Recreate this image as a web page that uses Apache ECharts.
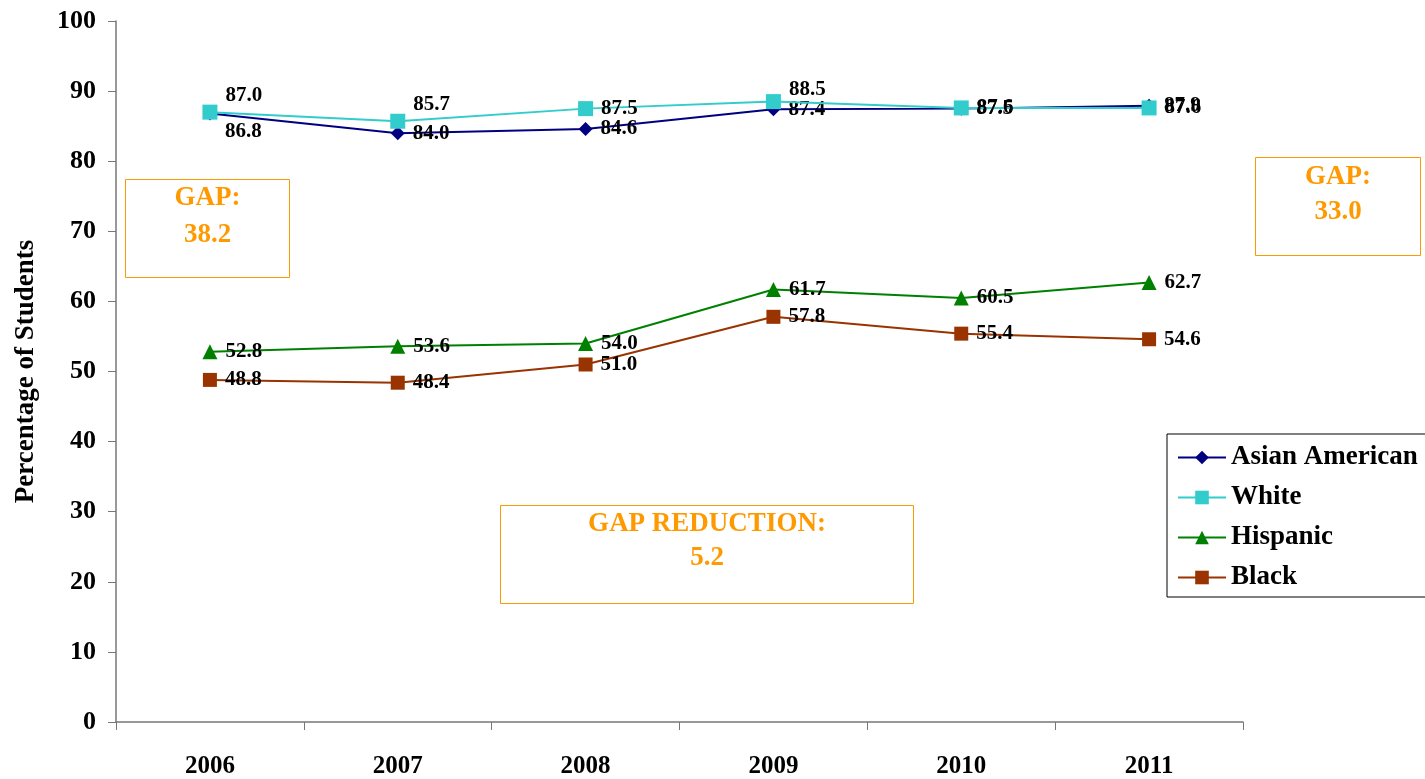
<!DOCTYPE html>
<html>
<head>
<meta charset="utf-8">
<script src="https://cdn.jsdelivr.net/npm/echarts@6/dist/echarts.min.js"></script>
<style>
  html, body { margin: 0; padding: 0; background: #fff; }
  #chart { width: 1425px; height: 779px; }
</style>
</head>
<body>
<div id="chart"></div>
<script>
// chart data
const years = ["2006", "2007", "2008", "2009", "2010", "2011"];
const asianAmerican = [86.8, 84.0, 84.6, 87.4, 87.5, 87.9];
const white = [87.0, 85.7, 87.5, 88.5, 87.6, 87.6];
const hispanic = [52.8, 53.6, 54.0, 61.7, 60.5, 62.7];
const black = [48.8, 48.4, 51.0, 57.8, 55.4, 54.6];

const FONT = "'Liberation Serif', 'Times New Roman', serif";

const labelStyle = {
  show: true,
  position: "right",
  distance: 8,
  color: "#000",
  fontFamily: FONT,
  fontWeight: "bold",
  fontSize: 21,
  formatter: (p) => p.value.toFixed(1),
};

// per-point label nudges (label placement only)
const asianOffsets = [[0, 18], [0, 0], [0, 0], [0, 0], [0, 0], [0, 0]];
const whiteOffsets = [[0, -17], [0, -17], [0, 0], [0, -12], [0, 0], [0, 0]];

function withOffsets(values, offsets) {
  return values.map((v, i) => ({
    value: v,
    label: { offset: offsets[i] },
  }));
}

const chart = echarts.init(document.getElementById("chart"));

// orange annotation boxes
function textBox(left, top, w, h, line1, line2, y1, y2) {
  const txt = (s, y) => ({
    type: "text",
    x: w / 2,
    y: y,
    style: {
      text: s,
      fill: "#FF9900",
      font: "bold 27px " + FONT,
      textAlign: "center",
      textVerticalAlign: "middle",
    },
  });
  return {
    type: "group",
    left: left,
    top: top,
    children: [
      {
        type: "rect",
        shape: { x: 0, y: 0, width: w, height: h },
        style: { fill: "#fff", stroke: "#FF9900", lineWidth: 1 },
      },
      txt(line1, y1),
      txt(line2, y2),
    ],
  };
}

const option = {
  animation: false,
  backgroundColor: "#fff",
  grid: { left: 116, right: 182, top: 21, bottom: 57 },
  legend: {
    orient: "vertical",
    left: 1167,
    top: 434,
    padding: [10, 40, 6, 10],
    itemGap: 13,
    itemWidth: 48,
    itemHeight: 17,
    borderColor: "#000",
    borderWidth: 1,
    backgroundColor: "#fff",
    textStyle: {
      color: "#000",
      fontFamily: FONT,
      fontWeight: "bold",
      fontSize: 27,
    },
    data: ["Asian American", "White", "Hispanic", "Black"],
  },
  xAxis: {
    type: "category",
    data: years,
    boundaryGap: true,
    axisLine: { lineStyle: { color: "#777", width: 1.5 } },
    axisTick: { show: true, length: 8, inside: false, lineStyle: { color: "#777" } },
    axisLabel: {
      margin: 32,
      color: "#000",
      fontFamily: FONT,
      fontWeight: "bold",
      fontSize: 25,
    },
  },
  yAxis: {
    type: "value",
    min: 0,
    max: 100,
    interval: 10,
    name: "Percentage of Students",
    nameLocation: "middle",
    nameGap: 76,
    nameTextStyle: {
      color: "#000",
      fontFamily: FONT,
      fontWeight: "bold",
      fontSize: 27,
    },
    axisLine: { show: true, lineStyle: { color: "#777", width: 1.5 } },
    axisTick: { show: true, length: 8, lineStyle: { color: "#777" } },
    splitLine: { show: false },
    axisLabel: {
      margin: 20,
      color: "#000",
      fontFamily: FONT,
      fontWeight: "bold",
      fontSize: 26,
    },
  },
  series: [
    {
      name: "Asian American",
      type: "line",
      data: withOffsets(asianAmerican, asianOffsets),
      color: "#000080",
      symbol: "diamond",
      symbolSize: 14,
      lineStyle: { width: 2 },
      label: labelStyle,
      z: 3,
    },
    {
      name: "White",
      type: "line",
      data: withOffsets(white, whiteOffsets),
      color: "#33CCCC",
      symbol: "rect",
      symbolSize: 15,
      lineStyle: { width: 2 },
      label: labelStyle,
      z: 4,
    },
    {
      name: "Hispanic",
      type: "line",
      data: hispanic,
      color: "#008000",
      symbol: "triangle",
      symbolSize: 15,
      lineStyle: { width: 2 },
      label: labelStyle,
    },
    {
      name: "Black",
      type: "line",
      data: black,
      color: "#993300",
      symbol: "rect",
      symbolSize: 14,
      lineStyle: { width: 2 },
      label: labelStyle,
    },
  ],
  graphic: [
    textBox(125, 179, 164, 98, "GAP:", "38.2", 19, 56),
    textBox(1255, 157, 165, 98, "GAP:", "33.0", 20, 55),
    textBox(500, 505, 413, 98, "GAP REDUCTION:", "5.2", 19, 53),
  ],
};

chart.setOption(option);
</script>
</body>
</html>
